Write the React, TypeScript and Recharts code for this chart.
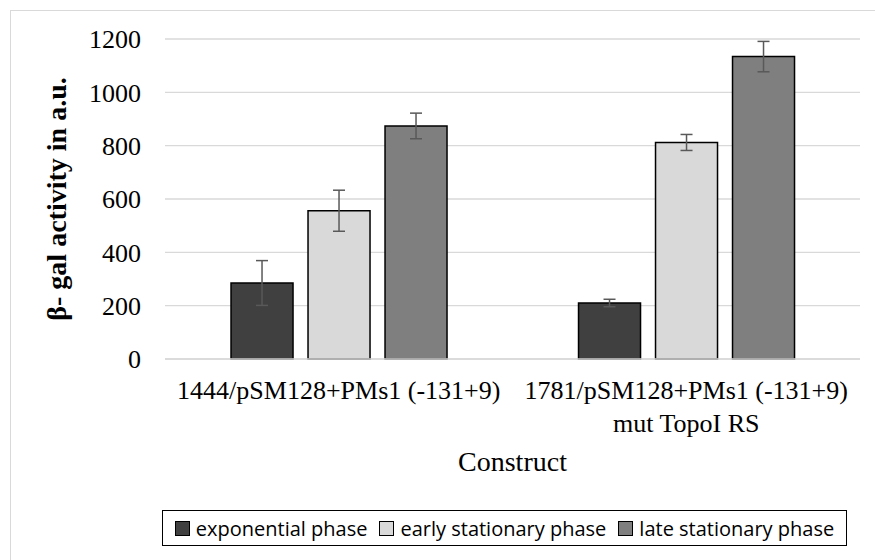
import { BarChart, Bar, XAxis, YAxis, CartesianGrid, ErrorBar } from 'recharts'

const constructs = ['1444/pSM128+PMs1 (-131+9)', '1781/pSM128+PMs1 (-131+9)|mut TopoI RS']
const exponential = [285, 210]
const exponentialErr = [84, 14]
const earlyStationary = [556, 812]
const earlyStationaryErr = [77, 30]
const lateStationary = [874, 1134]
const lateStationaryErr = [48, 57]
const yTicks = [0, 200, 400, 600, 800, 1000, 1200]

const series = [
  { key: 'exp', name: 'exponential phase', color: '#404040' },
  { key: 'early', name: 'early stationary phase', color: '#d9d9d9' },
  { key: 'late', name: 'late stationary phase', color: '#7f7f7f' },
]

const data = constructs.map((c, i) => ({
  construct: c,
  exp: exponential[i],
  expErr: exponentialErr[i],
  early: earlyStationary[i],
  earlyErr: earlyStationaryErr[i],
  late: lateStationary[i],
  lateErr: lateStationaryErr[i],
}))

const serif = '"Liberation Serif", "Times New Roman", serif'

function ConstructTick(props: any) {
  const { x, y, payload } = props
  const lines = String(payload.value).split('|')
  return (
    <text x={x} y={y} textAnchor="middle" fontFamily={serif} fontSize={26} fill="#000">
      {lines.map((l, i) => (
        <tspan key={i} x={x} dy={i === 0 ? 40 : 33}>
          {l}
        </tspan>
      ))}
    </text>
  )
}

export default function App() {
  return (
    <div
      style={{
        position: 'absolute',
        left: 0,
        top: 0,
        width: 875,
        height: 560,
        overflow: 'hidden',
        background: '#fff',
      }}
    >
      <div
        style={{
          position: 'absolute',
          left: 10,
          top: 10,
          width: 900,
          height: 600,
          border: '1px solid #d9d9d9',
        }}
      />
      <BarChart
        width={875}
        height={560}
        data={data}
        margin={{ top: 39, right: 15, left: 0, bottom: 0 }}
        barCategoryGap="19%"
        barGap={15}
      >
        <CartesianGrid vertical={false} stroke="#d9d9d9" strokeWidth={1.3} />
        <XAxis
          dataKey="construct"
          height={201}
          tickLine={false}
          tickSize={0}
          tickMargin={0}
          axisLine={{ stroke: '#d9d9d9', strokeWidth: 1.3 }}
          tick={<ConstructTick />}
          interval={0}
          label={{
            content: (p: any) => {
              const vb = p.viewBox
              return (
                <text
                  x={vb.x + vb.width / 2}
                  y={vb.y + 112}
                  textAnchor="middle"
                  fontFamily={serif}
                  fontSize={28}
                  fill="#000"
                >
                  Construct
                </text>
              )
            },
          }}
        />
        <YAxis
          width={165}
          domain={[0, 1200]}
          ticks={yTicks}
          axisLine={false}
          tickLine={false}
          tickSize={0}
          tickMargin={24}
          tick={{ fontFamily: serif, fontSize: 26, fill: '#000' }}
          label={{
            content: (p: any) => {
              const vb = p.viewBox
              const cx = 66
              const cy = vb.y + vb.height / 2
              return (
                <text
                  x={cx}
                  y={cy}
                  transform={`rotate(-90 ${cx} ${cy})`}
                  textAnchor="middle"
                  fontFamily={serif}
                  fontWeight="bold"
                  fontSize={28}
                  fill="#000"
                >
                  β- gal activity in a.u.
                </text>
              )
            },
          }}
        />
        {series.map((s) => (
          <Bar
            key={s.key}
            dataKey={s.key}
            name={s.name}
            fill={s.color}
            stroke="#000"
            strokeWidth={1.5}
            isAnimationActive={false}
          >
            <ErrorBar
              dataKey={s.key + 'Err'}
              direction="y"
              width={6}
              stroke="#595959"
              strokeWidth={1.5}
            />
          </Bar>
        ))}
      </BarChart>
      <div
        style={{
          position: 'absolute',
          left: 162,
          top: 510,
          width: 685,
          height: 36,
          boxSizing: 'border-box',
          border: '1.3px solid #000',
          display: 'flex',
          alignItems: 'center',
          justifyContent: 'center',
          fontFamily: '"Open Sans", "Noto Sans", sans-serif',
          fontSize: 20,
          color: '#000',
          whiteSpace: 'nowrap',
        }}
      >
        {series.map((s, i) => (
          <span
            key={s.key}
            style={{ display: 'inline-flex', alignItems: 'center', marginLeft: i === 0 ? 0 : 12 }}
          >
            <span
              style={{
                display: 'inline-block',
                width: 13,
                height: 13,
                background: s.color,
                border: '1.3px solid #000',
                marginRight: 6,
              }}
            />
            {s.name}
          </span>
        ))}
      </div>
    </div>
  )
}
